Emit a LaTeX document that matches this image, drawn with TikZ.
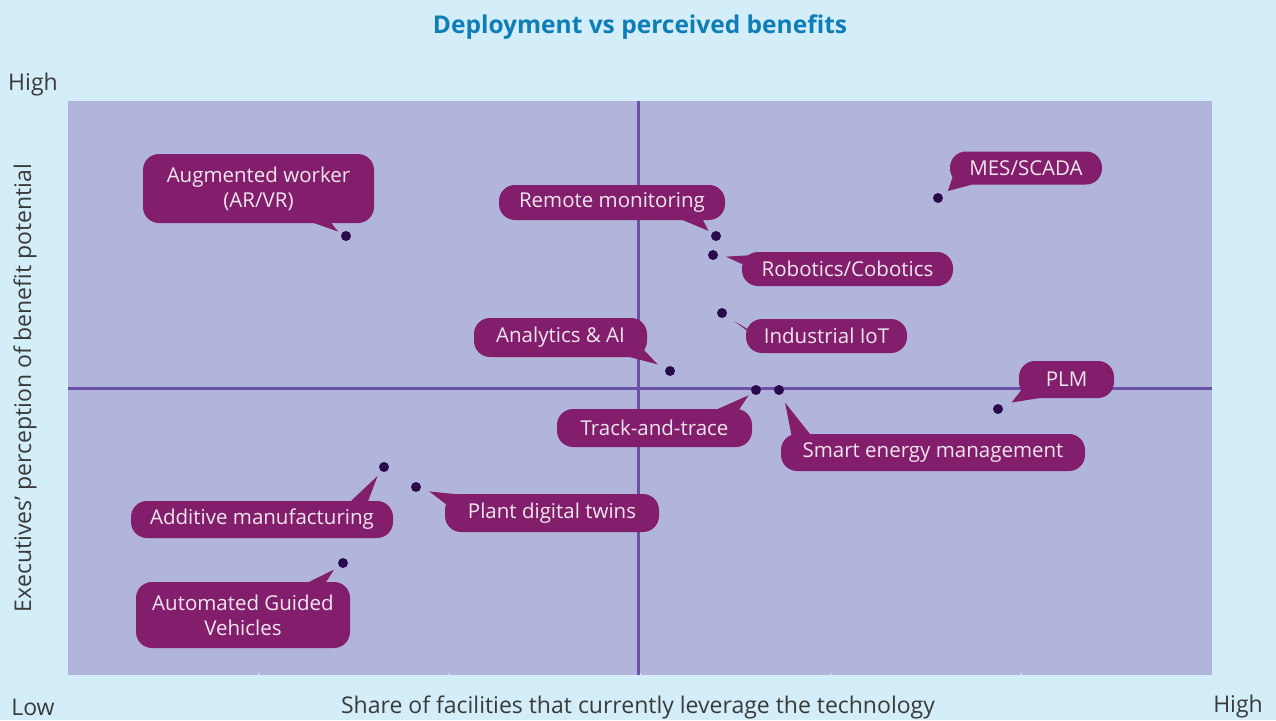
\documentclass[tikz,border=0pt]{standalone}
\usepackage{fontspec}
\setmainfont{Open Sans}
\usetikzlibrary{calc}
\definecolor{bgblue}{HTML}{D3EEF9}
\definecolor{plotbg}{HTML}{B1B5DB}
\definecolor{axisline}{HTML}{6A50A7}
\definecolor{bubfill}{HTML}{821E6B}
\definecolor{bubtext}{HTML}{F0E6EE}
\definecolor{dotcol}{HTML}{2A0A4A}
\definecolor{titleblue}{HTML}{0E7DB8}
\definecolor{labelgray}{HTML}{3A3A3A}
% callout tail: dot, first base point, second base point, gap to the dot
\newcommand\calltail[4]{%
  \path (#2) coordinate (tb1) (#3) coordinate (tb2) ($(tb1)!.5!(tb2)$) coordinate (tbm);
  \fill[bubfill] (tb1) -- ($(#1)!#4!(tbm)$) -- (tb2) -- cycle;}
\begin{document}
\begin{tikzpicture}[x=1pt,y=-1pt,
    bub/.style={fill=bubfill, text=bubtext, rounded corners=16pt, inner sep=0pt,
      align=center, font=\fontsize{20.5}{25}\selectfont},
    dot/.style={circle, fill=dotcol, inner sep=0pt, minimum size=10pt},
    axlbl/.style={text=labelgray, font=\fontsize{23}{27}\selectfont}]
  \useasboundingbox (0,0) rectangle (1276,720);
  \fill[bgblue] (0,0) rectangle (1276,720);
  \fill[plotbg] (68,101) rectangle (1212,675);
  \foreach \tx in {1,...,5}
    \draw[white!70!plotbg, line width=0.8pt] (68+190.67*\tx,675) -- (68+190.67*\tx,673);
  % quadrants
  \draw[axisline, line width=3pt] (638,101) -- (638,675);
  \draw[axisline, line width=3pt] (68,388) -- (1212,388);

  \node[font=\fontsize{24.5}{28}\selectfont\bfseries, text=titleblue] (title) at (640,27) {Deployment vs perceived benefits};
  \node[axlbl] (yhigh) at (33,85) {High};
  \node[axlbl] (xlow) at (33,707) {Low};
  \node[axlbl] (xhigh) at (1238,707) {High};
  \node[axlbl] (xlab) at (638,707) {Share of facilities that currently leverage the technology};
  \node[axlbl, rotate=90] (ylab) at (25,388) {Executives' perception of benefit potential};

  % technologies
  \node[bub, minimum width=231pt, minimum height=69pt] (aw) at (258.5,188.5) {Augmented worker\\(AR/VR)};
  \node[bub, minimum width=226pt, minimum height=35pt] (rm) at (612,202.5) {Remote monitoring};
  \node[bub, minimum width=211pt, minimum height=34pt] (rc) at (847.5,269) {Robotics/Cobotics};
  \node[bub, minimum width=152pt, minimum height=33pt] (mes) at (1026,168) {MES/SCADA};
  \node[bub, minimum width=173pt, minimum height=39pt] (aai) at (560.5,337.5) {Analytics \& AI};
  \node[bub, minimum width=161pt, minimum height=34pt] (iiot) at (826.5,336) {Industrial IoT};
  \node[bub, minimum width=95pt, minimum height=37pt] (plm) at (1066.5,379.5) {PLM};
  \node[bub, minimum width=195pt, minimum height=38pt] (tt) at (654.5,428) {Track-and-trace};
  \node[bub, minimum width=304pt, minimum height=37pt] (sem) at (933,452.5) {Smart energy management};
  \node[bub, minimum width=262pt, minimum height=37pt] (am) at (262,519.5) {Additive manufacturing};
  \node[bub, minimum width=214pt, minimum height=38pt] (pdt) at (552,513) {Plant digital twins};
  \node[bub, minimum width=214pt, minimum height=66pt] (agv) at (243,615) {Automated Guided\\Vehicles};

  \node[dot] (awd) at (346,236) {};
  \node[dot] (rmd) at (716,236) {};
  \node[dot] (rcd) at (713,255) {};
  \node[dot] (mesd) at (938,198) {};
  \node[dot] (aaid) at (670,371) {};
  \node[dot] (iiotd) at (722,313) {};
  \node[dot] (plmd) at (998,409) {};
  \node[dot] (ttd) at (756,390) {};
  \node[dot] (semd) at (779,390) {};
  \node[dot] (amd) at (384,467) {};
  \node[dot] (pdtd) at (416,487) {};
  \node[dot] (agvd) at (343,563) {};

  \calltail{awd}{[xshift=56pt]aw.south}{[xshift=73pt]aw.south}{9pt}
  \calltail{rmd}{[xshift=71pt]rm.south}{[xshift=91pt]rm.south}{9pt}
  \calltail{rcd}{[yshift=5pt]rc.west}{[xshift=12pt,yshift=14pt]rc.west}{13pt}
  \calltail{mesd}{[xshift=3pt,yshift=8pt]mes.south west}{[xshift=22pt]mes.south west}{12pt}
  \calltail{aaid}{[xshift=-17pt]aai.south east}{[xshift=-4pt,yshift=8pt]aai.south east}{14pt}
  \calltail{iiotd}{[yshift=8pt]iiot.west}{[xshift=14pt,yshift=-4pt]iiot.west}{14pt}
  \calltail{plmd}{[xshift=4pt,yshift=10pt]plm.south west}{[xshift=20pt]plm.south west}{15pt}
  \calltail{ttd}{[xshift=-34pt]tt.north east}{[xshift=-14pt,yshift=-2pt]tt.north east}{9pt}
  \calltail{semd}{[xshift=11pt,yshift=-3pt]sem.north west}{[xshift=29pt]sem.north west}{14pt}
  \calltail{amd}{[xshift=-42pt]am.north east}{[xshift=-25pt]am.north east}{11pt}
  \calltail{pdtd}{[xshift=2pt,yshift=-11pt]pdt.north west}{[xshift=17pt,yshift=-1pt]pdt.north west}{14pt}
  \calltail{agvd}{[xshift=-41pt]agv.north east}{[xshift=-24pt]agv.north east}{11pt}
\end{tikzpicture}
\end{document}
